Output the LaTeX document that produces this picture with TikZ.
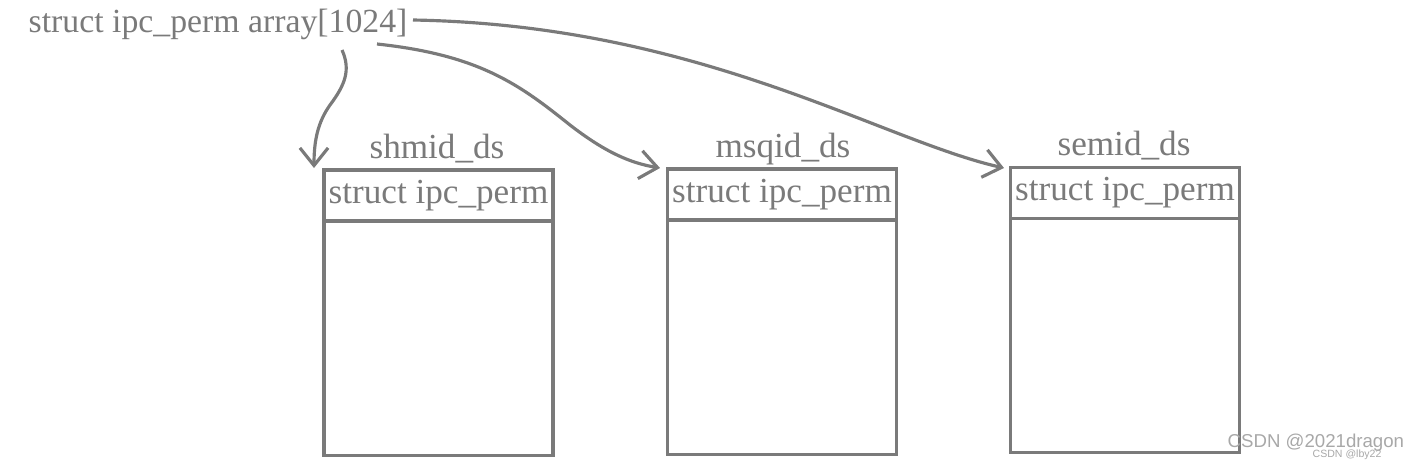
\documentclass[tikz,border=0pt]{standalone}
\usepackage{fontspec}
\setmainfont{Liberation Serif}
\newfontfamily\wmfont{Liberation Sans}
\usetikzlibrary{positioning,arrows.meta}

\definecolor{inkgrey}{HTML}{7A7A7A}
\definecolor{wmgrey}{HTML}{A8A8A8}

\tikzset{
    hdr/.style={draw=inkgrey, line width=0.9pt, text=inkgrey, font=\fontsize{10}{12}\selectfont,
        minimum width=2.29cm, minimum height=0.51cm, inner sep=0pt, outer sep=0pt},
    body/.style={draw=inkgrey, line width=0.9pt, minimum width=2.29cm, minimum height=2.34cm,
        inner sep=0pt, outer sep=0pt},
    lbl/.style={text=inkgrey, font=\fontsize{10}{12}\selectfont, inner sep=0pt, anchor=base},
    link/.style={draw=inkgrey, line width=0.9pt, -{Straight Barb[length=5pt,width=8pt]}},
}

\begin{document}
\begin{tikzpicture}[x=0.01cm, y=-0.01cm]
    \useasboundingbox (0,0) rectangle (1420,463);

    % array on top
    \node[lbl, anchor=base west, font=\fontsize{9.6}{12}\selectfont] (title) at (28,32)
        {struct ipc\_perm array[1024]};

    % the three ds boxes
    \node[hdr] (shmhead) at (438.5,195.5) {struct ipc\_perm};
    \node[body, below=0pt of shmhead] (shmbody) {};
    \node[lbl] (shmname) at (437,158) {shmid\_ds};

    \node[hdr] (msghead) at (782,194.5) {struct ipc\_perm};
    \node[body, below=0pt of msghead] (msgbody) {};
    \node[lbl] (msgname) at (783,157) {msqid\_ds};

    \node[hdr] (semhead) at (1125,193) {struct ipc\_perm};
    \node[body, below=0pt of semhead] (sembody) {};
    \node[lbl] (semname) at (1124,155) {semid\_ds};

    % arrow ends
    \coordinate (from1) at (342,50);
    \coordinate (from2) at (377,44);
    \coordinate (from3) at (413,20);
    \coordinate (to1) at (314,168);
    \coordinate (to2) at (660,168);
    \coordinate (to3) at (1004,168);

    \draw[link] (from1) .. controls (351,70) and (345,85) .. (330,105)
                        .. controls (318,122) and (314,140) .. (to1);
    \draw[link] (from2) .. controls (480,55) and (520,85) .. (570,125)
                        .. controls (605,152) and (630,163) .. (to2);
    \draw[link] (from3) .. controls (700,25) and (880,140) .. (to3);

    % watermark
    \node[text=wmgrey, font=\wmfont\fontsize{5.3}{6}\selectfont, anchor=base west, inner sep=0pt]
        (mark) at (1227,447) {CSDN @2021dragon};
    \node[text=wmgrey, font=\wmfont\fontsize{3}{4}\selectfont, anchor=base west, inner sep=0pt]
        (mark2) at (1312,457) {CSDN @lby22};
\end{tikzpicture}
\end{document}
